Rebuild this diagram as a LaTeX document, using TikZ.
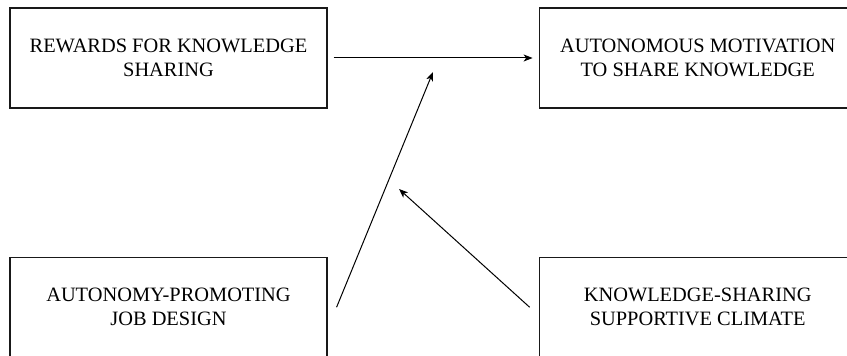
\documentclass[tikz,border=0pt]{standalone}
\usepackage{fontspec}
\setmainfont{Liberation Serif}
\usetikzlibrary{arrows.meta}
\usetikzlibrary{positioning}
\begin{document}
\begin{tikzpicture}[x=1pt,y=-1pt]
  \tikzstyle{box}=[rectangle, draw=black!90, line width=1.2pt, minimum width=317pt, minimum height=100pt, inner sep=0pt, align=center, font=\fontsize{20.4}{24}\selectfont]
  \tikzstyle{connect}=[-{Stealth[length=9pt, width=7pt, inset=2.5pt]}, line width=1pt]
  \useasboundingbox (0,0) rectangle (847,355.2);
    \node[box] (rewards) at (168.5,58) {REWARDS FOR KNOWLEDGE\\SHARING};
    \node[box] (motiv) [right=211pt of rewards] {AUTONOMOUS MOTIVATION\\TO SHARE KNOWLEDGE};
    \node[box] (autonomy) [below=148pt of rewards] {AUTONOMY-PROMOTING\\JOB DESIGN};
    \node[box] (climate) [below=148pt of motiv] {KNOWLEDGE-SHARING\\SUPPORTIVE CLIMATE};
    \coordinate (m1) at (433,72);
    \coordinate (m2) at (399,189);
    \path (rewards.east) edge [connect, shorten <=6pt, shorten >=6pt] (motiv.west)
          ([xshift=9pt]autonomy.east) edge [connect] (m1)
          ([xshift=-9pt]climate.west) edge [connect] (m2);
\end{tikzpicture}
\end{document}
